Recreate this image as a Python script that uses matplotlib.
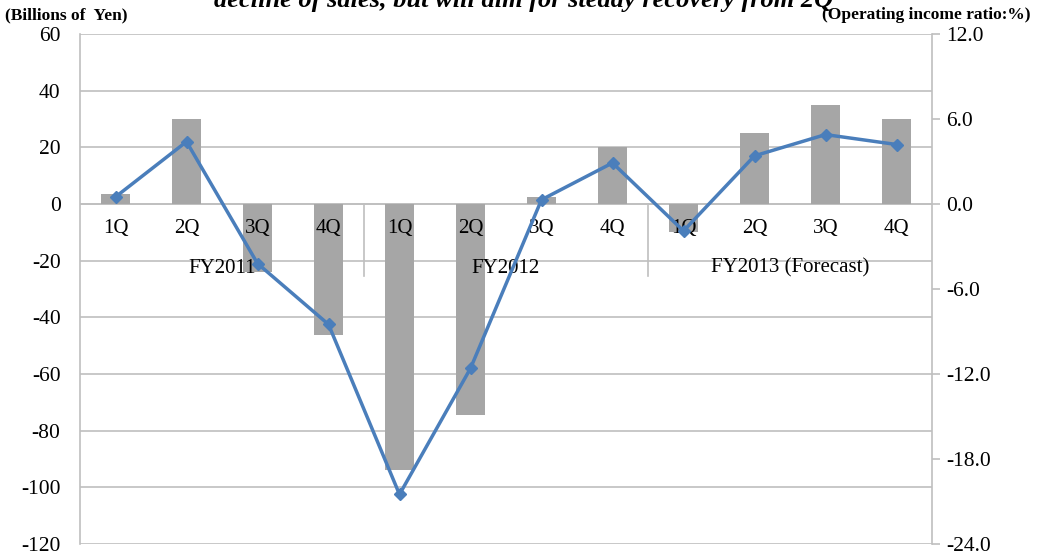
import matplotlib
matplotlib.use("Agg")
import matplotlib.pyplot as plt
import numpy as np

plt.rcParams['font.family'] = ['Liberation Serif', 'DejaVu Serif']
plt.rcParams['axes.unicode_minus'] = False

quarters = ['1Q', '2Q', '3Q', '4Q'] * 3
years = ['FY2011', 'FY2012', 'FY2013 (Forecast)']
# operating income, billions of yen
op_income = [3.7, 30, -24, -46.3, -94, -74.3, 2.6, 20, -10, 25, 35, 30]
# operating income ratio, %
op_ratio = [0.5, 4.4, -4.2, -8.5, -20.5, -11.6, 0.3, 2.9, -1.9, 3.4, 4.9, 4.2]

grid_c = '#BFBFBF'
bar_c = '#A6A6A6'
line_c = '#4A7EBB'

fig = plt.figure(figsize=(10.37, 5.58), dpi=100)
ax = fig.add_axes([80/1037, 14/558, 852/1037, 510/558])
x = np.arange(len(op_income))

ax.bar(x, op_income, width=0.4, color=bar_c, zorder=2)
ax.set_xlim(-0.5, len(x) - 0.5)
ax.set_ylim(-120, 60)
ax.set_yticks(np.arange(-120, 61, 20))
ax.yaxis.grid(True, color=grid_c, lw=1.2, zorder=0)
ax.set_xticks([])
ax.tick_params(axis='y', length=0, labelsize=15.5, pad=14)
for s in ['top', 'bottom', 'right']:
    ax.spines[s].set_visible(False)
ax.spines['left'].set_color(grid_c)
ax.spines['left'].set_linewidth(1.2)
ax.axhline(0, color=grid_c, lw=1.2, zorder=1)

# category labels drawn inside the plot under the zero line
for i, q in enumerate(quarters):
    ax.text(i, -8.5, q, ha='center', va='center', fontsize=15, zorder=4)
for k, yr in enumerate(years):
    ax.text(4 * k + 1.5, -22.7, yr, ha='center', va='center', fontsize=15, zorder=4)
for b in [3.5, 7.5]:
    ax.plot([b, b], [0, -25.5], color=grid_c, lw=1.2, zorder=1)

ax2 = ax.twinx()
ax2.plot(x, op_ratio, color=line_c, lw=2.5, marker='D', markersize=6, zorder=5)
ax2.set_ylim(-24, 12)
ax2.set_yticks(np.arange(-24, 12.1, 6))
ax2.set_yticklabels(['%.1f' % v for v in np.arange(-24, 12.1, 6)])
ax2.tick_params(axis='y', labelsize=15.5, length=6, color=grid_c, width=1.2, pad=4)
for s in ['top', 'bottom', 'left']:
    ax2.spines[s].set_visible(False)
ax2.spines['right'].set_color(grid_c)
ax2.spines['right'].set_linewidth(1.2)

fig.text(5/1037, 1 - 15/558, '(Billions of  Yen)', fontsize=12.5, fontweight='bold',
         ha='left', va='center')
fig.text(1031/1037, 1 - 15/558, '(Operating income ratio:%)', fontsize=12.5,
         fontweight='bold', ha='right', va='center')
fig.text(0.505, 1.0, 'decline of sales, but will aim for steady recovery from 2Q',
         fontsize=19, fontweight='bold', style='italic', ha='center', va='center')

fig.savefig('out.png', dpi=100)
